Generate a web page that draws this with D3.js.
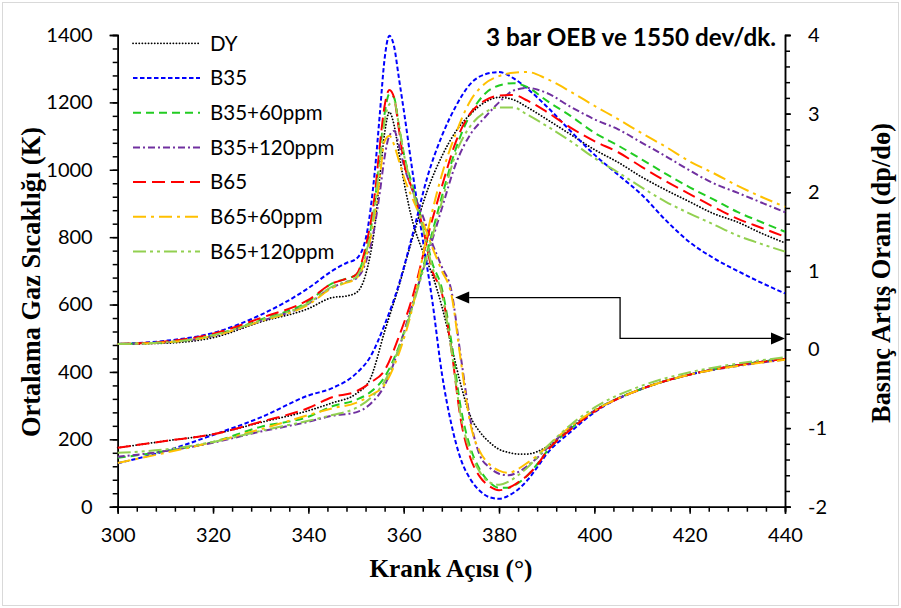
<!DOCTYPE html>
<html><head><meta charset="utf-8">
<script src="https://cdn.jsdelivr.net/npm/d3@7"></script>
<style>body{margin:0;background:#fff}</style>
</head><body><svg id="c" width="901" height="608"></svg>
<script>
// ---------- DATA ----------
const seriesNames = ["DY","B35","B35+60ppm","B35+120ppm","B65","B65+60ppm","B65+120ppm"];
const seriesColors = ["#000000","#0000FF","#22CC22","#7030A0","#FF0000","#FFC000","#92D050"];
const seriesDash = ["0.1,3","4.5,2.5","8,5","7,3,2,3","13,6","13,5,3,5","13,4,3,4,3,4"];

const xTicks = [300,320,340,360,380,400,420,440];
const leftTicks = [0,200,400,600,800,1000,1200,1400];
const rightTicks = [-2,-1,0,1,2,3,4];

// Mean gas temperature (K), left axis
const tempAngles = [300,310,320,330,340,345,350,353,356,359,362,365,368,371,374,377,380,383,386,390,395,400,405,410,415,420,425,430,435,440];
const tempDY    = [175,195,215,250,285,308,335,380,520,655,805,940,1040,1115,1165,1200,1215,1208,1185,1150,1105,1060,1022,978,940,905,870,845,812,783];
const tempB35   = [129,165,213,265,330,352,395,445,540,660,815,980,1100,1190,1255,1283,1290,1272,1240,1188,1115,1045,985,925,850,785,738,700,665,633];
const tempB35_60  = [145,165,192,237,267,298,317,340,385,475,605,760,920,1065,1165,1225,1250,1257,1245,1205,1160,1110,1072,1030,988,948,912,875,845,816];
const tempB35_120 = [148,165,190,223,252,270,280,305,360,470,610,745,885,1020,1105,1155,1200,1235,1243,1228,1187,1150,1120,1080,1040,998,960,932,903,874];
const tempB65   = [175,195,215,252,293,325,342,368,405,505,630,800,950,1085,1168,1205,1220,1222,1205,1172,1125,1085,1052,1008,966,928,890,855,828,801];
const tempB65_60  = [130,160,192,230,272,292,308,330,362,455,600,815,985,1110,1205,1255,1278,1288,1290,1270,1232,1190,1150,1108,1068,1025,990,953,920,890];
const tempB65_120 = [160,170,192,225,255,272,293,322,372,470,600,750,905,1050,1130,1170,1185,1185,1163,1130,1085,1035,992,947,905,870,838,805,780,757];

// Pressure rise rate (dp/dθ), right axis
const dpAngles = [300,310,320,330,340,345,348,350,352,354,355,356,357,358,359,360,362,364,366,368,370,372,374,376,378,380,382,384,386,388,390,395,400,410,420,430,440];
const dpDY    = [0.07,0.08,0.15,0.35,0.52,0.66,0.68,0.72,0.95,1.6,2.2,2.75,3.02,2.85,2.5,2.15,1.6,1.25,0.95,0.55,0.05,-0.45,-0.85,-1.05,-1.18,-1.27,-1.31,-1.33,-1.33,-1.30,-1.24,-1.00,-0.78,-0.50,-0.32,-0.20,-0.12];
const dpB35   = [0.07,0.11,0.21,0.44,0.78,1.00,1.10,1.15,1.40,2.3,3.0,3.7,3.99,3.85,3.45,3.05,2.2,1.4,0.62,-0.30,-0.95,-1.40,-1.65,-1.80,-1.88,-1.90,-1.86,-1.78,-1.66,-1.50,-1.33,-1.05,-0.80,-0.50,-0.32,-0.20,-0.12];
const dpB35_60  = [0.07,0.09,0.18,0.38,0.61,0.84,0.90,0.95,1.25,1.9,2.5,3.0,3.25,3.2,2.85,2.5,2.05,1.6,1.1,0.78,0.1,-0.75,-1.25,-1.53,-1.69,-1.76,-1.76,-1.70,-1.60,-1.46,-1.30,-1.01,-0.78,-0.50,-0.32,-0.20,-0.12];
const dpB35_120 = [0.07,0.09,0.17,0.36,0.58,0.79,0.86,0.90,1.10,1.6,2.0,2.45,2.72,2.78,2.6,2.35,2.0,1.7,1.35,1.05,0.75,-0.1,-0.9,-1.35,-1.50,-1.58,-1.60,-1.56,-1.48,-1.38,-1.26,-0.99,-0.78,-0.50,-0.32,-0.21,-0.13];
const dpB65   = [0.07,0.10,0.20,0.40,0.63,0.84,0.90,0.95,1.3,2.0,2.6,3.1,3.30,3.2,2.8,2.4,2.0,1.55,1.0,0.72,0.0,-0.9,-1.38,-1.62,-1.74,-1.79,-1.76,-1.69,-1.60,-1.47,-1.30,-1.02,-0.79,-0.50,-0.32,-0.20,-0.12];
const dpB65_60  = [0.07,0.09,0.17,0.36,0.57,0.78,0.85,0.90,1.15,1.75,2.2,2.65,2.72,2.6,2.4,2.2,1.9,1.62,1.3,1.0,0.7,-0.15,-0.95,-1.3,-1.46,-1.54,-1.57,-1.52,-1.44,-1.35,-1.24,-0.98,-0.78,-0.50,-0.32,-0.21,-0.13];
const dpB65_120 = [0.07,0.09,0.18,0.37,0.59,0.80,0.86,0.92,1.2,1.85,2.4,2.9,3.12,3.15,2.85,2.5,2.0,1.55,1.05,0.72,0.0,-0.85,-1.30,-1.56,-1.69,-1.72,-1.68,-1.60,-1.50,-1.37,-1.24,-0.96,-0.74,-0.46,-0.29,-0.18,-0.10];

const tempSeries = [tempDY,tempB35,tempB35_60,tempB35_120,tempB65,tempB65_60,tempB65_120];
const dpSeries = [dpDY,dpB35,dpB35_60,dpB35_120,dpB65,dpB65_60,dpB65_120];

// annotation arrow, in data units (angle, dp)
const arrowPts = [[370.8,0.66],[405.4,0.66],[405.4,0.14],[440,0.14]];

// ---------- CHART ----------
const svg = d3.select("#c");
const W = 901, H = 608;
svg.append("rect").attr("x",2.5).attr("y",2.5).attr("width",W-5).attr("height",H-5)
  .attr("fill","#fff").attr("stroke","#d9d9d9").attr("stroke-width",1);

const x = d3.scaleLinear().domain([300,440]).range([117.7,785]);
const yL = d3.scaleLinear().domain([0,1400]).range([506.7,35]);
const yR = d3.scaleLinear().domain([-2,4]).range([506.7,35]);

const tickFont = "Lato, 'Open Sans', sans-serif";
const fmt = d => String(d);

function styleAxis(g){
  g.select(".domain").attr("stroke","#000").attr("stroke-width",1.5);
  g.selectAll(".tick line").attr("stroke","#000").attr("stroke-width",1.5);
  g.selectAll(".tick text").attr("font-family",tickFont).attr("font-size",20).attr("fill","#000");
}

// minor ticks
svg.append("g").attr("transform",`translate(0,${yL(0)})`)
  .call(d3.axisBottom(x).tickValues(d3.range(300,441,4)).tickSize(5).tickFormat(""))
  .call(styleAxis);
svg.append("g").attr("transform",`translate(${x(300)},0)`)
  .call(d3.axisLeft(yL).tickValues(d3.range(0,1401,40)).tickSize(5).tickFormat(""))
  .call(styleAxis);
svg.append("g").attr("transform",`translate(${x(440)},0)`)
  .call(d3.axisRight(yR).tickValues(d3.range(-2,4.01,0.2)).tickSize(5).tickFormat(""))
  .call(styleAxis);
// major ticks
svg.append("g").attr("transform",`translate(0,${yL(0)})`)
  .call(d3.axisBottom(x).tickValues(xTicks).tickSize(7).tickPadding(14).tickFormat(fmt))
  .call(styleAxis);
svg.append("g").attr("transform",`translate(${x(300)},0)`)
  .call(d3.axisLeft(yL).tickValues(leftTicks).tickSize(8).tickPadding(17).tickFormat(fmt))
  .call(styleAxis);
svg.append("g").attr("transform",`translate(${x(440)},0)`)
  .call(d3.axisRight(yR).tickValues(rightTicks).tickSize(6).tickPadding(17).tickFormat(fmt))
  .call(styleAxis);

// lines
const lineT = d3.line().x((d,i)=>x(tempAngles[i])).y(d=>yL(d)).curve(d3.curveMonotoneX);
const lineD = d3.line().x((d,i)=>x(dpAngles[i])).y(d=>yR(d)).curve(d3.curveMonotoneX);
const plot = svg.append("g");
seriesNames.forEach((n,i)=>{
  [[dpSeries[i],lineD],[tempSeries[i],lineT]].forEach(([data,gen])=>{
    plot.append("path").attr("d",gen(data)).attr("fill","none")
      .attr("stroke",seriesColors[i]).attr("stroke-width", i===0?1.8:2)
      .attr("stroke-dasharray",seriesDash[i])
      .attr("stroke-linecap", i===0?"round":"butt");
  });
});

// arrow annotation
const ap = arrowPts.map(p=>[x(p[0]),yR(p[1])]);
const ah = 14, aw = 6;
svg.append("path").attr("d",d3.line()([[ap[0][0]+ah,ap[0][1]],ap[1],ap[2],[ap[3][0]-ah,ap[3][1]]]))
  .attr("fill","none").attr("stroke","#000").attr("stroke-width",1.3);
svg.append("path").attr("d",`M${ap[0][0]},${ap[0][1]}L${ap[0][0]+ah},${ap[0][1]-aw}L${ap[0][0]+ah},${ap[0][1]+aw}Z`).attr("fill","#000");
svg.append("path").attr("d",`M${ap[3][0]},${ap[3][1]}L${ap[3][0]-ah},${ap[3][1]-aw}L${ap[3][0]-ah},${ap[3][1]+aw}Z`).attr("fill","#000");

// legend
const leg = svg.append("g");
seriesNames.forEach((n,i)=>{
  const yy = 43.3 + i*34.7;
  leg.append("line").attr("x1",133).attr("x2",200).attr("y1",yy).attr("y2",yy)
    .attr("stroke",seriesColors[i]).attr("stroke-width",i===0?1.8:2)
    .attr("stroke-dasharray",seriesDash[i]).attr("stroke-linecap", i===0?"round":"butt");
  leg.append("text").attr("x",210).attr("y",yy).attr("dy","0.36em")
    .attr("font-family",tickFont).attr("font-size",20.5).text(n);
});

function fitText(sel, target){
  const L = sel.node().getComputedTextLength();
  const fs = +sel.attr("font-size");
  if (L > 0) sel.attr("font-size", (fs*target/L).toFixed(2));
  return sel;
}

// title
fitText(svg.append("text").attr("x",776).attr("y",37).attr("dy","0.36em").attr("text-anchor","end")
  .attr("font-family",tickFont).attr("font-weight","bold").attr("font-size",20)
  .text("3 bar OEB ve 1550 dev/dk."), 290);

// axis titles
const serif = "'Liberation Serif','Times New Roman',serif";
fitText(svg.append("text").attr("x",451).attr("y",568).attr("dy","0.36em").attr("text-anchor","middle")
  .attr("font-family",serif).attr("font-weight","bold").attr("font-size",21).text("Krank Açısı (°)"), 163);
fitText(svg.append("text").attr("transform","translate(30,282) rotate(-90)").attr("dy","0.36em").attr("text-anchor","middle")
  .attr("font-family",serif).attr("font-weight","bold").attr("font-size",21).text("Ortalama Gaz Sıcaklığı (K)"), 310);
fitText(svg.append("text").attr("transform","translate(880,273) rotate(-90)").attr("dy","0.36em").attr("text-anchor","middle")
  .attr("font-family",serif).attr("font-weight","bold").attr("font-size",21).text("Basınç Artış Oranı (dp/dө)"), 300);
</script>
</body></html>
